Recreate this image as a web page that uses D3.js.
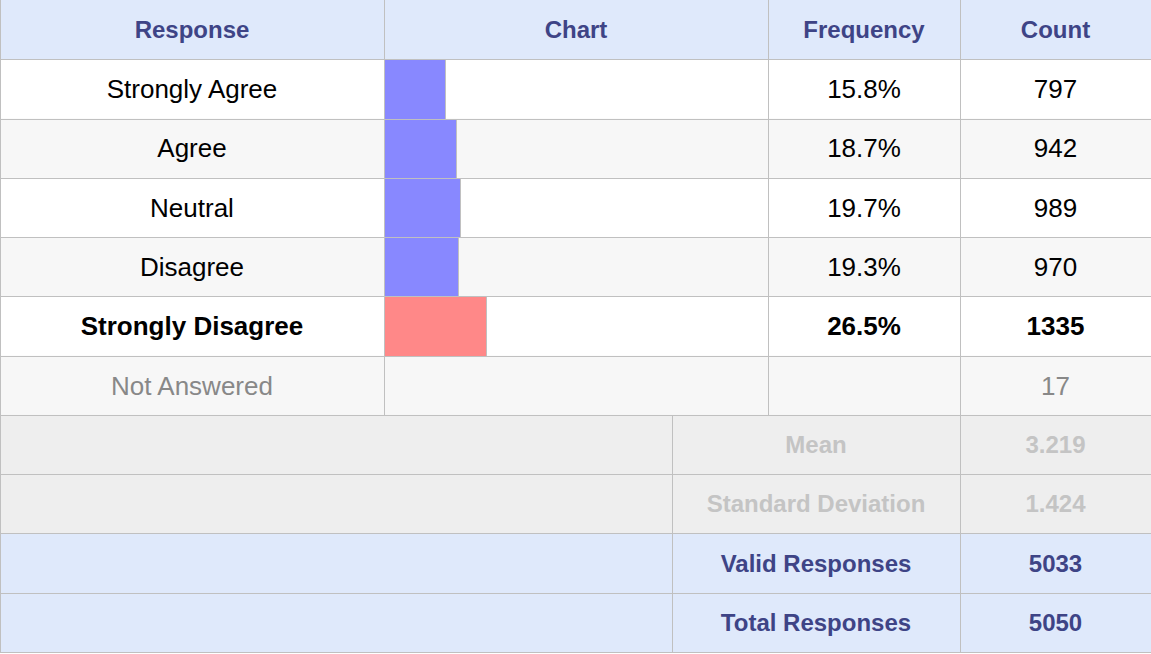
<!DOCTYPE html>
<html>
<head>
<meta charset="utf-8">
<script src="https://cdn.jsdelivr.net/npm/d3@7"></script>
<style>
  body { margin: 0; background: #fff; }
  svg text { font-family: "Liberation Sans", Arial, sans-serif; }
</style>
</head>
<body>
<div id="chart"></div>
<script>
  'use strict';

  // data
  const headers = ['Response', 'Chart', 'Frequency', 'Count'];
  const responses = ['Strongly Agree', 'Agree', 'Neutral', 'Disagree', 'Strongly Disagree'];
  const frequencies = [15.8, 18.7, 19.7, 19.3, 26.5];
  const counts = [797, 942, 989, 970, 1335];
  const notAnsweredLabel = 'Not Answered';
  const notAnsweredCount = 17;
  const statLabels = ['Mean', 'Standard Deviation'];
  const statValues = ['3.219', '1.424'];
  const totalLabels = ['Valid Responses', 'Total Responses'];
  const totalValues = [5033, 5050];

  const W = 1151, H = 654;
  const nRows = 1 + responses.length + 1 + statLabels.length + totalLabels.length;

  // column edges
  const colX = [0, 384, 768, 960, 1151];
  const statSplit = 672;

  const grid = '#c0c0c0';
  const headBg = '#dfe9fb';
  const headText = '#3e4486';

  const svg = d3.select('#chart').append('svg')
    .attr('width', W)
    .attr('height', H);

  const rowY = d3.scaleLinear().domain([0, nRows]).range([0, 652]);
  const rowH = rowY(1) - rowY(0);
  const barX = d3.scaleLinear().domain([0, 100]).range([colX[1], colX[2]]);

  const maxFreq = d3.max(frequencies);
  const snap = v => Math.round(v) + 0.5;

  // row backgrounds
  const rowFills = [headBg]
    .concat(responses.map((d, i) => i % 2 === 0 ? '#ffffff' : '#f7f7f7'))
    .concat([responses.length % 2 === 0 ? '#ffffff' : '#f7f7f7'])
    .concat(statLabels.map(() => '#eeeeee'))
    .concat(totalLabels.map(() => headBg));

  svg.append('g').selectAll('rect')
    .data(rowFills)
    .enter()
    .append('rect')
    .attr('x', 0)
    .attr('y', (d, i) => rowY(i))
    .attr('width', W)
    .attr('height', rowH + 1)
    .attr('fill', d => d);

  // bars
  svg.append('g').selectAll('rect')
    .data(frequencies)
    .enter()
    .append('rect')
    .attr('x', snap(barX(0)))
    .attr('y', (d, i) => snap(rowY(i + 1)))
    .attr('width', d => Math.round(barX(d) - barX(0)))
    .attr('height', (d, i) => Math.round(rowY(i + 2)) - Math.round(rowY(i + 1)))
    .attr('fill', d => d === maxFreq ? '#ff8888' : '#8888ff')
    .attr('stroke', grid)
    .attr('stroke-width', 1);

  // grid lines (no top or right border, table is cut there)
  const lines = svg.append('g').attr('stroke', grid).attr('stroke-width', 1).attr('shape-rendering', 'crispEdges');
  d3.range(1, nRows + 1).forEach(i => {
    lines.append('line')
      .attr('x1', 0).attr('x2', W)
      .attr('y1', snap(rowY(i))).attr('y2', snap(rowY(i)));
  });
  const tableBottom = 1 + responses.length + 1;
  [0, colX[1], colX[2], colX[3]].forEach(x => {
    lines.append('line')
      .attr('x1', snap(x)).attr('x2', snap(x))
      .attr('y1', rowY(0)).attr('y2', snap(rowY(tableBottom)));
  });
  [0, statSplit, colX[3]].forEach(x => {
    lines.append('line')
      .attr('x1', snap(x)).attr('x2', snap(x))
      .attr('y1', snap(rowY(tableBottom))).attr('y2', snap(rowY(nRows)));
  });

  // text helper
  const label = (txt, cx, row, size, weight, color) => {
    svg.append('text')
      .attr('x', cx)
      .attr('y', (rowY(row) + rowY(row + 1)) / 2 + size * 0.716 / 2)
      .attr('text-anchor', 'middle')
      .attr('font-size', size + 'px')
      .attr('font-weight', weight)
      .attr('fill', color)
      .text(txt);
  };
  const mid = (a, b) => (a + b) / 2;

  headers.forEach((h, i) => label(h, mid(colX[i], colX[i + 1]), 0, 24, 'bold', headText));

  responses.forEach((r, i) => {
    const isMax = frequencies[i] === maxFreq;
    const w = isMax ? 'bold' : 'normal';
    label(r, mid(colX[0], colX[1]), i + 1, 26, w, '#000');
    label(frequencies[i].toFixed(1) + '%', mid(colX[2], colX[3]), i + 1, 26, w, '#000');
    label(counts[i], mid(colX[3], colX[4]), i + 1, 26, w, '#000');
  });

  const naRow = responses.length + 1;
  label(notAnsweredLabel, mid(colX[0], colX[1]), naRow, 26, 'normal', '#888888');
  label(notAnsweredCount, mid(colX[3], colX[4]), naRow, 26, 'normal', '#888888');

  statLabels.forEach((s, i) => {
    label(s, mid(statSplit, colX[3]), naRow + 1 + i, 24, 'bold', '#c4c4c4');
    label(statValues[i], mid(colX[3], colX[4]), naRow + 1 + i, 24, 'bold', '#c4c4c4');
  });

  totalLabels.forEach((s, i) => {
    const r = naRow + 1 + statLabels.length + i;
    label(s, mid(statSplit, colX[3]), r, 24, 'bold', headText);
    label(totalValues[i], mid(colX[3], colX[4]), r, 24, 'bold', headText);
  });
</script>
</body>
</html>
